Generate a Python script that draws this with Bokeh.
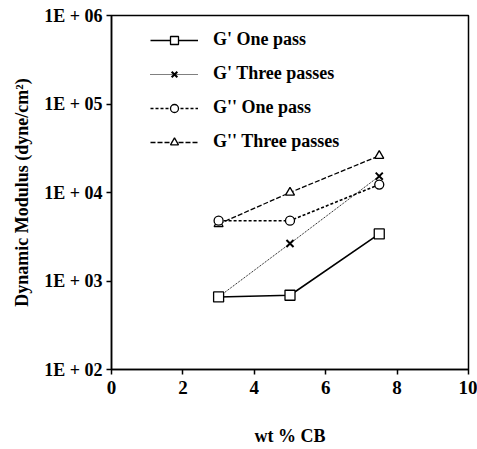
from bokeh.plotting import figure
from bokeh.models import FixedTicker, CustomJSTickFormatter, Legend, LegendItem, Range1d
from bokeh.embed import file_html
from bokeh.resources import INLINE

wt_cb = [3, 5, 7.5]
g1_one = [660, 690, 3400]
g1_three = [660, 2650, 15300]
g2_one = [4800, 4800, 12300]
g2_three = [4400, 10000, 26000]

x_ticks = [0, 2, 4, 6, 8, 10]
y_ticks = [1e2, 1e3, 1e4, 1e5, 1e6]

FONT = "Liberation Serif"

p = figure(width=477, height=449, output_backend="svg", toolbar_location=None,
           y_axis_type="log", x_range=Range1d(0, 10), y_range=Range1d(1e2, 1e6),
           min_border_left=111, min_border_right=9, min_border_top=15, min_border_bottom=80)
p.grid.visible = False
p.outline_line_color = "black"
p.outline_line_width = 1.5
p.background_fill_color = "white"
p.border_fill_color = "white"

p.xaxis.ticker = FixedTicker(ticks=x_ticks)
p.yaxis.ticker = FixedTicker(ticks=y_ticks)
p.yaxis.formatter = CustomJSTickFormatter(code="return '1E + 0' + Math.round(Math.log10(tick));")
for ax in (p.xaxis, p.yaxis):
    ax.major_tick_out = 5
    ax.major_tick_in = 0
    ax.minor_tick_out = 0
    ax.minor_tick_in = 0
    ax.axis_line_width = 1.5
    ax.major_tick_line_width = 1.5
    ax.major_label_text_font = FONT
    ax.major_label_text_font_style = "bold"
    ax.major_label_text_color = "black"
    ax.axis_label_text_font = FONT
    ax.axis_label_text_font_style = "bold"
    ax.axis_label_text_font_size = "18px"
    ax.axis_label_text_color = "black"
p.xaxis.major_label_text_font_size = "19px"
p.yaxis.major_label_text_font_size = "18px"
p.xaxis.axis_label = "wt % CB"
p.xaxis.axis_label_standoff = 29
p.yaxis.axis_label = "Dynamic Modulus (dyne/cm\u00b2)"
p.yaxis.axis_label_standoff = 9
p.yaxis.major_label_standoff = 4
p.xaxis.major_label_standoff = 6

l2 = p.line(wt_cb, g1_three, line_color="black", line_width=1, line_dash="1 1")
s2 = p.scatter(wt_cb, g1_three, marker="x", size=10, line_color="black", line_width=2)
l1 = p.line(wt_cb, g1_one, line_color="black", line_width=1.6)
s1 = p.scatter(wt_cb, g1_one, marker="square", size=10, fill_color="white", line_color="black", line_width=1.3)
l4 = p.line(wt_cb, g2_three, line_color="black", line_width=1.3, line_dash="5 2")
s4 = p.scatter(wt_cb, g2_three, marker="triangle", size=9, fill_color="white", line_color="black", line_width=1.3)
l3 = p.line(wt_cb, g2_one, line_color="black", line_width=1.6, line_dash="3 2")
s3 = p.scatter(wt_cb, g2_one, marker="circle", size=9, fill_color="white", line_color="black", line_width=1.3)

legend = Legend(items=[
    LegendItem(label="G' One pass", renderers=[l1, s1]),
    LegendItem(label="G' Three passes", renderers=[l2, s2]),
    LegendItem(label="G'' One pass", renderers=[l3, s3]),
    LegendItem(label="G'' Three passes", renderers=[l4, s4]),
], location=(39, 217))
legend.border_line_color = None
legend.background_fill_alpha = 0
legend.padding = 0
legend.margin = 0
legend.spacing = 13
legend.glyph_width = 48
legend.glyph_height = 20
legend.label_height = 20
legend.label_standoff = 15
legend.label_text_font = FONT
legend.label_text_font_style = "bold"
legend.label_text_font_size = "18px"
legend.label_text_color = "black"
p.add_layout(legend)

open("out.html", "w").write(file_html(p, INLINE))
